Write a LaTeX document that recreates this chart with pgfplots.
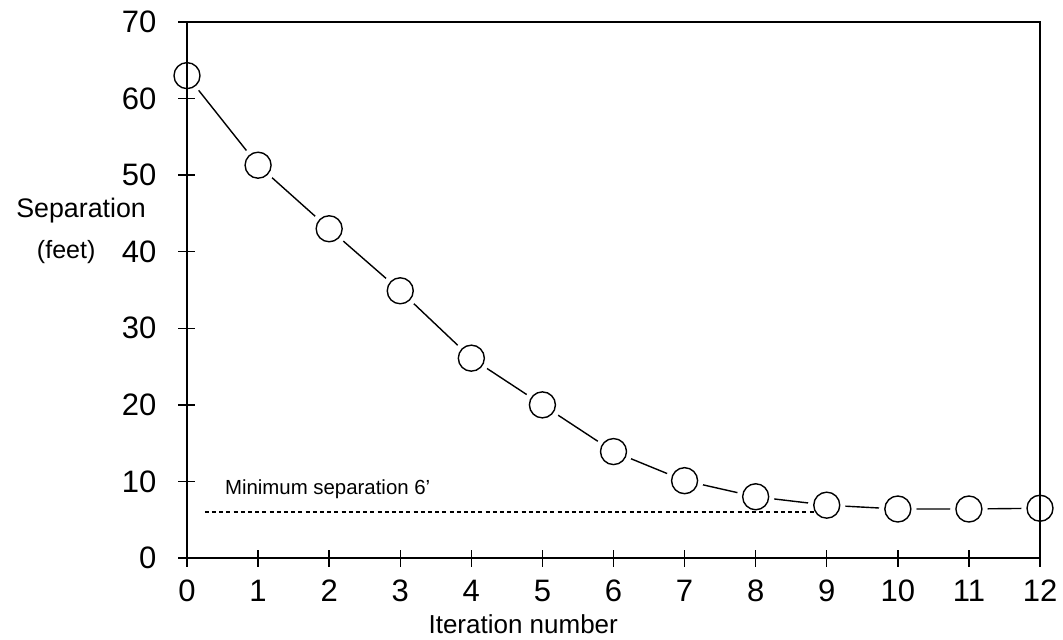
\documentclass[border=0pt]{standalone}
\usepackage{fontspec}
\setmainfont{Liberation Sans}
\usepackage{pgfplots}
\pgfplotsset{compat=1.18}
\begin{document}
\begin{tikzpicture}
\path[use as bounding box] (-93.5pt,-40.5pt) rectangle (438pt,279pt);
\pgfplotsset{myax/.style={
  at={(0,0)}, anchor=south west,
  scale only axis, width=426.5pt, height=268pt,
  xmin=0, xmax=12, ymin=0, ymax=70, clip=false}}
\begin{axis}[myax,
  xtick={0,...,12}, ytick={0,10,...,70},
  xtick pos=bottom, ytick pos=left,
  tick align=center, major tick length=8.5pt,
  axis line style={line width=1pt},
  every tick/.style={black, line width=0.7pt},
  tick label style={font=\fontsize{15.5}{17}\selectfont},
  yticklabel style={anchor=east, xshift=-7.5pt},
  xticklabel style={anchor=north, yshift=-2.5pt, text height=11.5pt, text depth=0pt},
  /pgf/number format/assume math mode=true,
]
\addplot[black, line width=0.7pt, mark=*, mark size=9pt, mark options={draw=white, fill=white}]
  coordinates {(0,63) (1,51.3) (2,43) (3,34.9) (4,26.1) (5,20) (6,13.9) (7,10.1) (8,8.0) (9,6.9) (10,6.4) (11,6.4) (12,6.5)};
\node[anchor=south west, font=\fontsize{10.2}{11}\selectfont, inner sep=0pt] at (axis cs:0.53,7.7) {Minimum separation 6'};
\node[font=\fontsize{13}{15}\selectfont] at (axis cs:4.73,-8.6) {Iteration number};
\node[font=\fontsize{13.4}{15}\selectfont] at (axis cs:-1.49,45.4) {Separation};
\node[font=\fontsize{12.5}{14}\selectfont] at (axis cs:-1.70,40.0) {(feet)};
\end{axis}
\begin{axis}[myax, axis lines=none, ticks=none]
\addplot[black, line width=0.6pt, dash pattern=on 2pt off 1.6pt] coordinates {(0.25,6) (8.85,6)};
\addplot[black, line width=1pt] coordinates {(0,0) (0,70)};
\addplot[black, line width=1pt] coordinates {(12,0) (12,70)};
\addplot[only marks, black, mark=o, mark size=6.5pt, mark options={line width=0.7pt}]
  coordinates {(0,63) (1,51.3) (2,43) (3,34.9) (4,26.1) (5,20) (6,13.9) (7,10.1) (8,8.0) (9,6.9) (10,6.4) (11,6.4) (12,6.5)};
\end{axis}
\end{tikzpicture}
\end{document}
